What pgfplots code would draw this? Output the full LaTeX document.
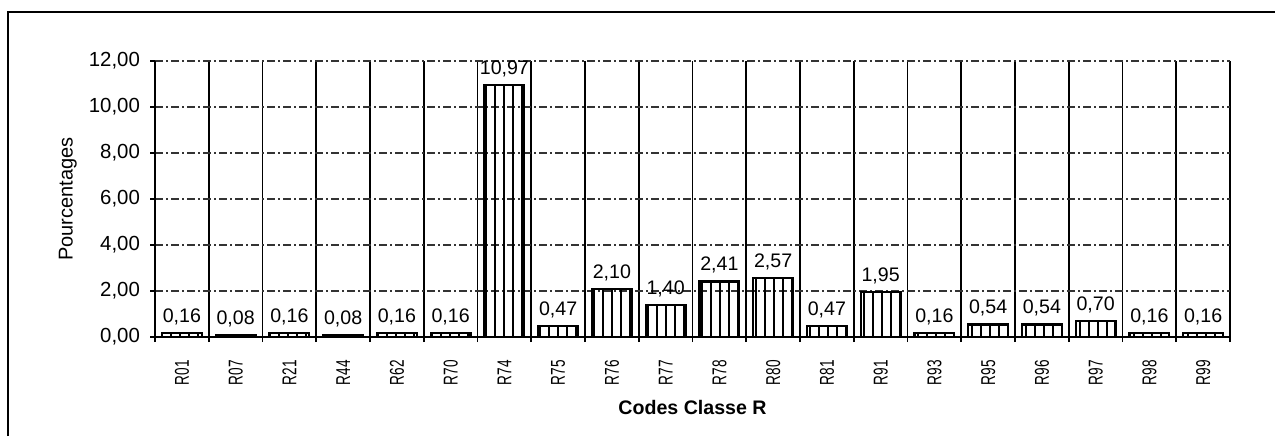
\documentclass[border=0pt]{standalone}
\usepackage{fontspec}
\setmainfont{Liberation Sans}
\usepackage{graphicx}
\usepackage{pgfplots}
\pgfplotsset{compat=1.18}
\usetikzlibrary{patterns.meta}
\newcommand\tl[1]{\scalebox{0.68}[1.0]{#1}}
\begin{document}
\begin{tikzpicture}
\useasboundingbox (0,0) rectangle (637.5pt,218pt);
\draw[line width=1.4pt] (4pt,0pt) -- (4pt,212pt) -- (637.5pt,212pt);
\begin{axis}[
  at={(77.5pt,49.5pt)}, anchor=south west,
  scale only axis, width=537.5pt, height=138pt,
  xmin=-0.5, xmax=19.5, ymin=0, ymax=12,
  clip=false,
  axis lines*=left, axis line style={-, line width=0.8pt, black},
  xtick={0,...,19},
  xticklabels={\tl{R01},\tl{R07},\tl{R21},\tl{R44},\tl{R62},\tl{R70},\tl{R74},\tl{R75},\tl{R76},\tl{R77},\tl{R78},\tl{R80},\tl{R81},\tl{R91},\tl{R93},\tl{R95},\tl{R96},\tl{R97},\tl{R98},\tl{R99}},
  xticklabel style={rotate=90, anchor=east, font=\fontsize{10}{12}\selectfont},
  minor xtick={-0.5,0.5,...,19.5},
  ytick={0,2,...,12},
  minor ytick={0,2,...,12},
  major tick length=0pt, minor tick length=2.5pt, tick align=outside,
  minor tick style={line width=0.8pt, black},
  xticklabel shift=8pt,
  yticklabel style={font=\fontsize{10.2}{12}\selectfont},
  yticklabel shift=4pt,
  /pgf/number format/fixed, /pgf/number format/fixed zerofill,
  /pgf/number format/precision=2, /pgf/number format/use comma,
  /pgf/number format/assume math mode=true,
  xminorgrids=true, ymajorgrids=true,
  minor grid style={solid, black, line width=0.8pt},
  major grid style={black!80, line width=0.6pt, dash pattern=on 4pt off 1.5pt on 1pt off 1.5pt},
  xlabel={\textbf{Codes Classe R}},
  xlabel style={at={(axis description cs:0.5,-0.257)}, anchor=center, font=\fontsize{9.8}{12}\selectfont},
  ylabel={Pourcentages},
  ylabel style={at={(axis description cs:-0.081,0.5)}, anchor=center, font=\fontsize{10}{12}\selectfont},
]
\addplot[ybar, bar width=0.74, draw=black, line width=1.1pt,
  pattern={Lines[angle=90, distance=4.5pt, line width=1.1pt]},
  nodes near coords={\pgfmathprintnumber[fixed,fixed zerofill,precision=2,use comma,assume math mode=true]{\pgfplotspointmeta}},
  nodes near coords style={font=\fontsize{9.8}{11}\selectfont, inner sep=2pt, yshift=1.5pt, anchor=south}]
coordinates {
(0,0.16) (1,0.08) (2,0.16) (3,0.08) (4,0.16) (5,0.16) (6,10.97) (7,0.47) (8,2.10) (9,1.40)
(10,2.41) (11,2.57) (12,0.47) (13,1.95) (14,0.16) (15,0.54) (16,0.54) (17,0.70) (18,0.16) (19,0.16)
};
\end{axis}
\end{tikzpicture}
\end{document}
